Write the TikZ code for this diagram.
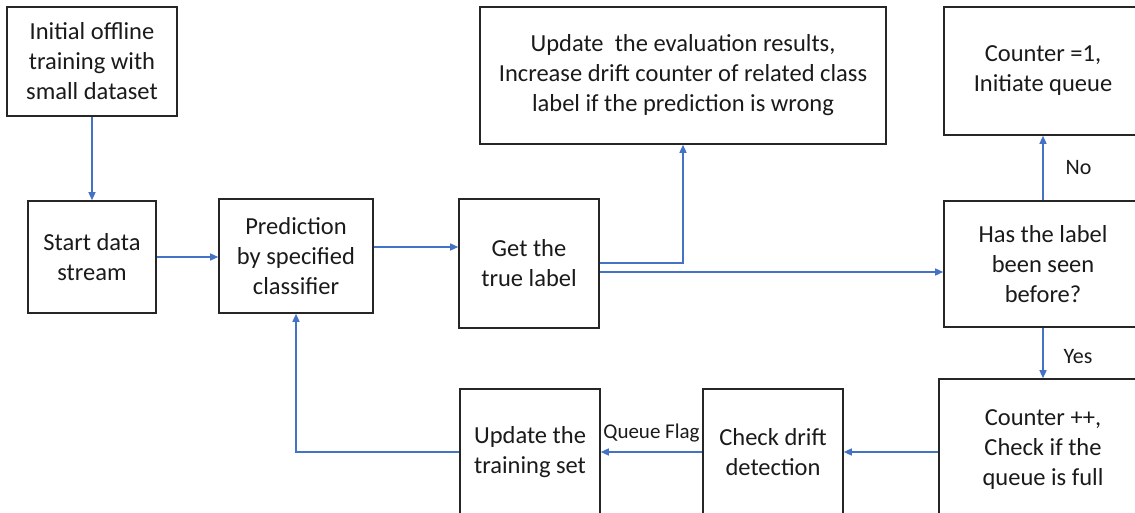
\documentclass[tikz,border=0pt]{standalone}
\usepackage{fontspec}
\setmainfont{Carlito}
\usetikzlibrary{arrows.meta}
\definecolor{arrblue}{HTML}{4472C4}
\definecolor{txt}{HTML}{1A1A1A}
\begin{document}
\begin{tikzpicture}[x=1pt,y=-1pt,
  box/.style={draw=black!85, line width=1.6pt, rectangle, inner sep=0pt, align=center,
    text=txt, font=\fontsize{24.5}{30}\selectfont},
  arr/.style={draw=arrblue, line width=1.4pt, -{Triangle[length=8pt,width=7pt]}},
  lbl/.style={text=txt, inner sep=0pt, font=\fontsize{22}{26}\selectfont}]
\useasboundingbox (0,0) rectangle (1135,513);
\clip (0,0) rectangle (1135,513);
\node[box, minimum width=170pt, minimum height=109pt] (A) at (92,61.5) {Initial offline\\training with\\small dataset};
\node[box, minimum width=128pt, minimum height=112pt] (B) at (92,257) {Start data\\stream};
\node[box, minimum width=154pt, minimum height=114pt] (C) at (296,256) {Prediction\\by specified\\classifier};
\node[box, minimum width=140pt, minimum height=129pt] (D) at (529,263.5) {Get the\\true label};
\node[box, minimum width=406pt, minimum height=137pt] (E) at (683,75.5) {Update\ \ the evaluation results,\\Increase drift counter of related class\\label if the prediction is wrong};
\node[box, minimum width=198pt, minimum height=128pt] (F) at (1043,71) {Counter =1,\\Initiate queue};
\node[box, minimum width=198pt, minimum height=126pt] (G) at (1043,264) {Has the label\\been seen\\before?};
\node[box, minimum width=208pt, minimum height=142pt] (H) at (1043,450) {Counter ++,\\Check if the\\queue is full};
\node[box, minimum width=140pt, minimum height=126pt] (T) at (530,452) {Update the\\training set};
\node[box, minimum width=140pt, minimum height=126pt] (I) at (773,452) {Check drift\\detection};

\draw[arr] (A.south) -- (B.north);
\draw[arr] (B.east) -- (B.east -| C.west);
\draw[arr] (C.east |- 0,247) -- (D.west |- 0,247);
\draw[arr] (D.east |- 0,263) -| (E.south);
\draw[arr] (D.east |- 0,272) -- (G.west |- 0,272);
\draw[arr] (G.north) -- (F.south) node[lbl, midway, anchor=west, xshift=22pt] (no) {No};
\draw[arr] (G.south) -- (H.north) node[lbl, midway, anchor=west, xshift=20pt, yshift=-4pt] (yes) {Yes};
\draw[arr] (H.west |- 0,452) -- (I.east |- 0,452);
\draw[arr] (I.west |- 0,452) -- (T.east |- 0,452) node[midway, above=9pt, inner sep=0pt, text=txt, font=\fontsize{21}{24}\selectfont] (qf) {Queue Flag};
\draw[arr] (T.west |- 0,452) -| (C.south);
\end{tikzpicture}
\end{document}
